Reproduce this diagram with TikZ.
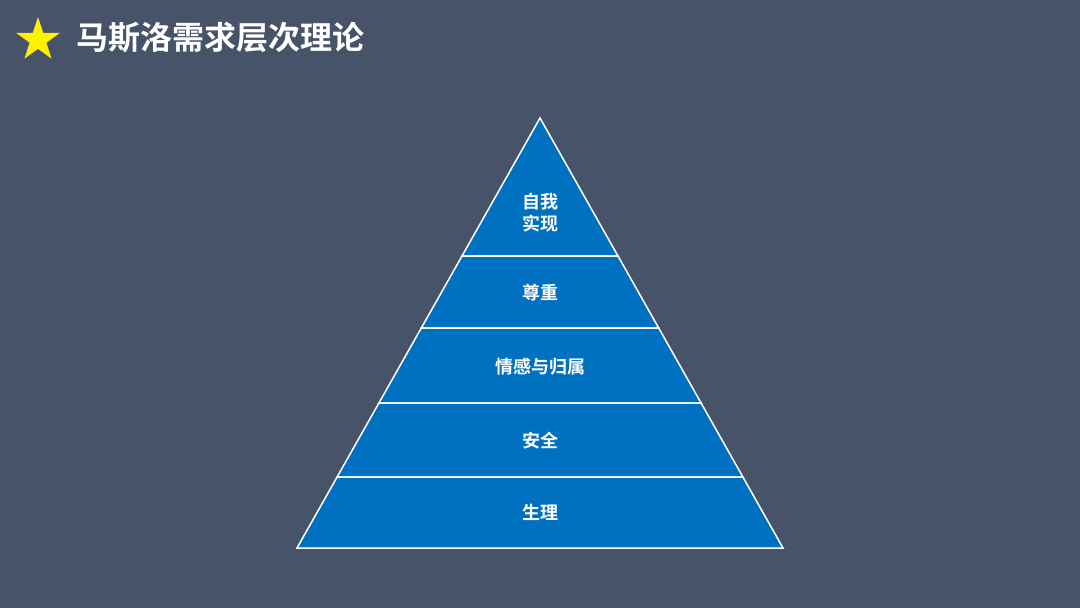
\documentclass[tikz,border=0pt]{standalone}
\usepackage{fontspec}
\newfontfamily\cjk{Noto Sans CJK SC Bold}
\usetikzlibrary{shapes.geometric}
\definecolor{bg}{HTML}{465369}
\definecolor{pyr}{HTML}{0070C0}
\tikzset{band/.style={fill=pyr,draw=white,line width=1.5pt,line join=miter},
lab/.style={text=white,font=\cjk\fontsize{18}{22}\selectfont,align=center}}
\begin{document}
\begin{tikzpicture}[x=1pt,y=-1pt]
\fill[bg] (0,0) rectangle (1080,608);
\useasboundingbox (0,0) rectangle (1080,608);
\node[star,star points=5,star point ratio=2.6,fill=yellow,minimum size=46pt,inner sep=0pt] (st) at (38,40) {};
\node[anchor=west,text=white,font=\cjk\fontsize{32}{36}\selectfont,inner sep=0pt] (title) at (76,38) {马斯洛需求层次理论};
\draw[band] (540,118) -- (618,256) -- (462,256) -- cycle;
\draw[band] (462,256) -- (618,256) -- (658.7,328) -- (421.3,328) -- cycle;
\draw[band] (421.3,328) -- (658.7,328) -- (701.1,403) -- (378.9,403) -- cycle;
\draw[band] (378.9,403) -- (701.1,403) -- (742.9,477) -- (337.1,477) -- cycle;
\draw[band] (337.1,477) -- (742.9,477) -- (783,548) -- (297,548) -- cycle;
\node[lab] (l1) at (540,213) {自我\\实现};
\node[lab] (l2) at (540,293) {尊重};
\node[lab] (l3) at (540,367) {情感与归属};
\node[lab] (l4) at (540,441) {安全};
\node[lab] (l5) at (540,512) {生理};
\end{tikzpicture}
\end{document}
